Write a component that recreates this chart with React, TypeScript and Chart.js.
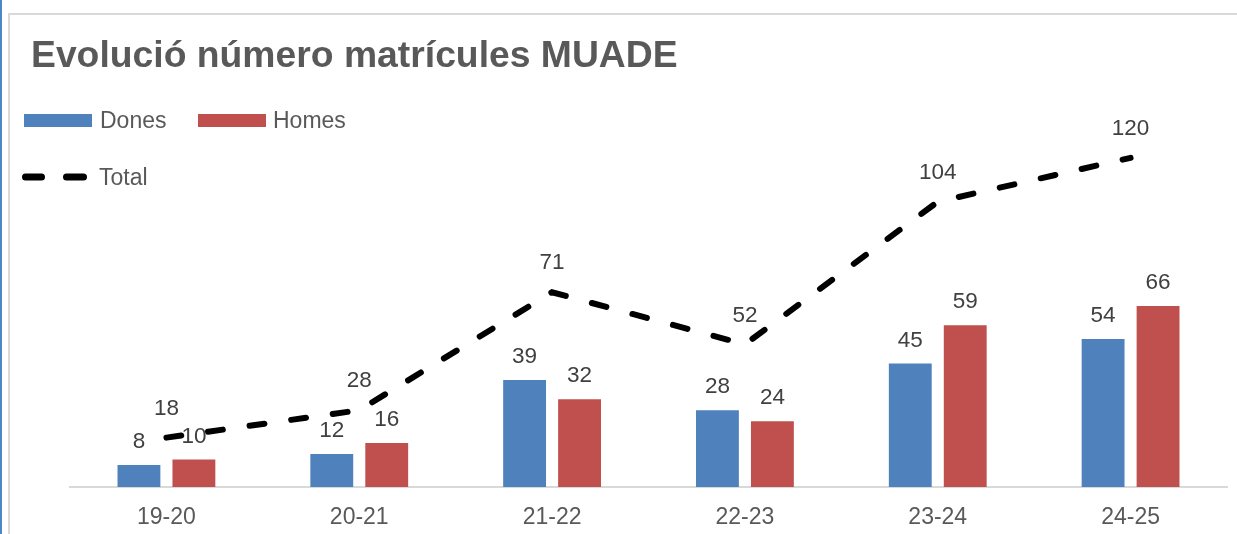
import React, { useEffect, useRef } from "react";
import { Chart, registerables } from "chart.js";

Chart.register(...registerables);

const categories = ["19-20", "20-21", "21-22", "22-23", "23-24", "24-25"];
const dones = [8, 12, 39, 28, 45, 54];
const homes = [10, 16, 32, 24, 59, 66];
const total = [18, 28, 71, 52, 104, 120];

const titleText = "Evolució número matrícules MUADE";
const FONT = "'Liberation Sans', Arial, Helvetica, sans-serif";
const BLUE = "#4F81BD";
const RED = "#C0504D";

const labelsPlugin = {
  id: "valueLabels",
  afterDatasetsDraw(chart: any) {
    const ctx = chart.ctx;
    ctx.save();
    ctx.font = `22.5px ${FONT}`;
    ctx.fillStyle = "#404040";
    ctx.textAlign = "center";
    ctx.textBaseline = "middle";
    chart.data.datasets.forEach((ds: any, di: number) => {
      const meta = chart.getDatasetMeta(di);
      const off = ds.type === "line" ? 29 : 23;
      meta.data.forEach((el: any, i: number) => {
        ctx.fillText(String(ds.data[i]), el.x, el.y - off);
      });
    });
    ctx.restore();
  },
};

const headerPlugin = {
  id: "header",
  afterDraw(chart: any) {
    const ctx = chart.ctx;
    ctx.save();
    ctx.fillStyle = "#595959";
    ctx.font = `bold 37.3px ${FONT}`;
    ctx.textAlign = "left";
    ctx.textBaseline = "alphabetic";
    ctx.fillText(titleText, 31, 67);

    const ds = chart.data.datasets;
    ctx.font = `23px ${FONT}`;
    // row 1: bars
    ctx.fillStyle = ds[0].backgroundColor;
    ctx.fillRect(24, 114, 68, 13);
    ctx.fillStyle = "#595959";
    ctx.fillText(ds[0].label, 100, 128);
    ctx.fillStyle = ds[1].backgroundColor;
    ctx.fillRect(198, 114, 68, 13);
    ctx.fillStyle = "#595959";
    ctx.fillText(ds[1].label, 273, 128);
    // row 2: line
    ctx.strokeStyle = ds[2].borderColor;
    ctx.lineWidth = 7;
    ctx.lineCap = "round";
    ctx.beginPath();
    ctx.moveTo(25.5, 177);
    ctx.lineTo(41.5, 177);
    ctx.moveTo(66.5, 177);
    ctx.lineTo(83.5, 177);
    ctx.stroke();
    ctx.fillStyle = "#595959";
    ctx.fillText(ds[2].label, 99, 185);
    ctx.restore();
  },
};

export default function App() {
  const ref = useRef<HTMLCanvasElement | null>(null);
  useEffect(() => {
    if (!ref.current) return;
    const chart = new Chart(ref.current, {
      type: "bar",
      data: {
        labels: categories,
        datasets: [
          {
            type: "bar",
            label: "Dones",
            data: dones,
            backgroundColor: BLUE,
            barPercentage: 0.78,
            categoryPercentage: 0.57,
            order: 1,
          },
          {
            type: "bar",
            label: "Homes",
            data: homes,
            backgroundColor: RED,
            barPercentage: 0.78,
            categoryPercentage: 0.57,
            order: 1,
          },
          {
            type: "line",
            label: "Total",
            data: total,
            borderColor: "#000000",
            backgroundColor: "#000000",
            borderWidth: 6,
            borderDash: [15, 27],
            borderCapStyle: "round",
            pointRadius: 0,
            tension: 0,
            fill: false,
            order: 0,
          },
        ] as any,
      },
      options: {
        responsive: false,
        animation: false,
        events: [],
        layout: { padding: { left: 70, right: 10, top: 103, bottom: 0 } },
        plugins: {
          legend: { display: false },
          title: { display: false },
          tooltip: { enabled: false },
        },
        scales: {
          x: {
            grid: { display: false, drawTicks: false },
            border: { display: true, color: "#d9d9d9", width: 2 },
            ticks: {
              color: "#595959",
              font: { family: FONT, size: 23 },
              padding: 17,
              maxRotation: 0,
            },
            afterFit(scale: any) {
              scale.height = 47;
            },
          },
          y: {
            display: false,
            min: 0,
            max: 140,
          },
        },
      },
      plugins: [labelsPlugin, headerPlugin],
    });
    return () => chart.destroy();
  }, []);

  return (
    <div
      style={{
        position: "fixed",
        left: 0,
        top: 0,
        width: 1237,
        height: 534,
        overflow: "hidden",
        background: "#ffffff",
      }}
    >
      <div style={{ position: "absolute", left: 0, top: 0, width: 2, height: 534, background: "#4a86c8" }} />
      <div
        style={{
          position: "absolute",
          left: 8,
          top: 13,
          width: 1300,
          height: 600,
          border: "2px solid #d9d9d9",
          boxSizing: "border-box",
        }}
      />
      <canvas ref={ref} width={1237} height={534} style={{ position: "absolute", left: 0, top: 0 }} />
    </div>
  );
}
